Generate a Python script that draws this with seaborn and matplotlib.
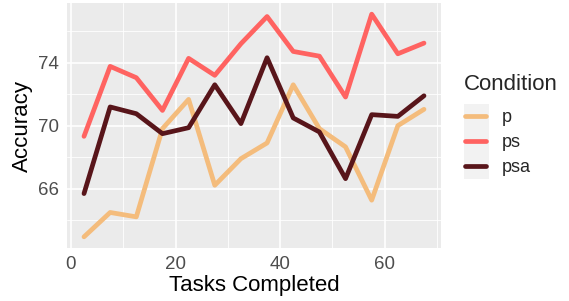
import matplotlib
matplotlib.use("Agg")
import matplotlib.pyplot as plt
import numpy as np
import pandas as pd
import seaborn as sns
from matplotlib.patches import Rectangle
from matplotlib.ticker import MultipleLocator

tasks = [2.5, 7.5, 12.5, 17.5, 22.5, 27.5, 32.5, 37.5, 42.5, 47.5, 52.5, 57.5, 62.5, 67.5]
acc_p = [62.93, 64.48, 64.20, 69.81, 71.67, 66.21, 67.90, 68.90, 72.60, 69.81, 68.65, 65.26, 70.00, 71.04]
acc_ps = [69.32, 73.77, 73.05, 70.97, 74.28, 73.20, 75.21, 76.94, 74.72, 74.42, 71.82, 77.09, 74.57, 75.25]
acc_psa = [65.68, 71.19, 70.76, 69.49, 69.87, 72.60, 70.13, 74.32, 70.49, 69.60, 66.63, 70.70, 70.59, 71.90]
conditions = ["p", "ps", "psa"]
colors = {"p": "#F4BC7C", "ps": "#FF6361", "psa": "#58151A"}

df = pd.DataFrame({
    "Tasks Completed": tasks * 3,
    "Accuracy": acc_p + acc_ps + acc_psa,
    "Condition": [c for c in conditions for _ in tasks],
})

sns.set_theme(style="darkgrid", rc={
    "axes.facecolor": "#EBEBEB",
    "grid.color": "white",
    "axes.edgecolor": "#EBEBEB",
})
plt.rcParams["font.family"] = ["Liberation Sans", "DejaVu Sans"]

fig = plt.figure(figsize=(5.69, 3.01), dpi=100)
ax = fig.add_axes([67 / 569, 1 - 248 / 301, 374 / 569, 245 / 301])

sns.lineplot(data=df, x="Tasks Completed", y="Accuracy", hue="Condition",
             palette=colors, linewidth=3.4, ax=ax, legend=False)

ax.set_xlim(-0.75, 70.75)
ax.set_ylim(62.22, 77.8)
ax.xaxis.set_major_locator(MultipleLocator(20))
ax.xaxis.set_minor_locator(MultipleLocator(10))
ax.yaxis.set_major_locator(MultipleLocator(4))
ax.yaxis.set_minor_locator(MultipleLocator(2))
ax.set_yticks([66, 70, 74])
ax.grid(which="major", color="white", linewidth=1.2)
ax.grid(which="minor", color="white", linewidth=0.6)
for s in ax.spines.values():
    s.set_visible(False)
ax.tick_params(which="major", length=3.5, width=0.9, color="#333333",
               labelsize=13.5, labelcolor="#4D4D4D", pad=2)
ax.tick_params(which="minor", length=0)
ax.set_xlabel("Tasks Completed", fontsize=16, color="black", labelpad=2)
ax.set_ylabel("Accuracy", fontsize=16, color="black", labelpad=4)

# legend (title drawn separately to match ggplot spacing)
fig.text(464 / 569, 1 - 84 / 301, "Condition", fontsize=16, ha="left", va="center")
handles = [plt.Line2D([], [], color=colors[c], linewidth=3.4) for c in conditions]
leg = fig.legend(handles, conditions, loc="upper left",
                 bbox_to_anchor=(449 / 569, 1 - 93 / 301), frameon=False,
                 fontsize=13, handlelength=1.16,
                 handletextpad=0.85, labelspacing=0.45)
fig.add_artist(Rectangle((464 / 569, 1 - 179 / 301), 25 / 569, 75 / 301,
                         transform=fig.transFigure, facecolor="#F2F2F2",
                         edgecolor="none", zorder=0))

fig.savefig("out.png", dpi=100)
